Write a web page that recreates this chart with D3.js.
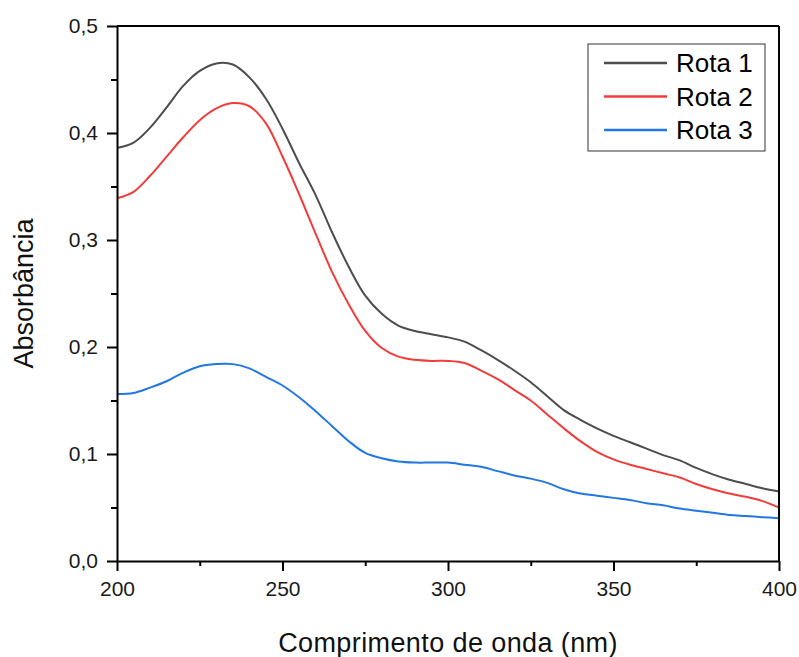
<!DOCTYPE html>
<html>
<head>
<meta charset="utf-8">
<script src="https://cdn.jsdelivr.net/npm/d3@7"></script>
<style>
  body { margin: 0; background: #fff; }
  svg { display: block; font-family: "Liberation Sans", Arial, sans-serif; }
</style>
</head>
<body>
<svg class="spectra" width="799" height="657"></svg>
<script>
/* wavelength grid (nm) and absorbance, one list per route */
var wavelength = [200, 205, 210, 215, 220, 225, 230, 235, 240, 245, 250, 255, 260, 265, 270, 275, 280, 285, 290, 295,
  300, 305, 310, 315, 320, 325, 330, 335, 340, 345, 350, 355, 360, 365, 370, 375, 380, 385, 390, 395, 400];

var rota1 = [0.386, 0.391, 0.405, 0.424, 0.444, 0.458, 0.465, 0.464, 0.452, 0.432, 0.404, 0.372, 0.342, 0.307, 0.275, 0.248, 0.231, 0.220, 0.215, 0.212,
  0.209, 0.205, 0.197, 0.188, 0.178, 0.167, 0.154, 0.141, 0.132, 0.124, 0.117, 0.111, 0.105, 0.099, 0.094, 0.087, 0.081, 0.076, 0.072, 0.068, 0.065];

var rota2 = [0.339, 0.345, 0.360, 0.378, 0.396, 0.412, 0.423, 0.428, 0.425, 0.409, 0.378, 0.343, 0.306, 0.270, 0.240, 0.215, 0.199, 0.191, 0.188, 0.187,
  0.187, 0.185, 0.178, 0.170, 0.160, 0.150, 0.137, 0.124, 0.112, 0.102, 0.095, 0.090, 0.086, 0.082, 0.078, 0.072, 0.067, 0.063, 0.060, 0.056, 0.050];

var rota3 = [0.156, 0.157, 0.162, 0.168, 0.176, 0.182, 0.184, 0.184, 0.180, 0.172, 0.164, 0.153, 0.140, 0.126, 0.112, 0.101, 0.096, 0.093, 0.092, 0.092,
  0.092, 0.090, 0.088, 0.084, 0.080, 0.077, 0.073, 0.067, 0.063, 0.061, 0.059, 0.057, 0.054, 0.052, 0.049, 0.047, 0.045, 0.043, 0.042, 0.041, 0.040];

var seriesNames = ["Rota 1", "Rota 2", "Rota 3"];
var seriesColors = ["#4d4d4d", "#f23c3c", "#2277e3"];
var xTicks = [200, 250, 300, 350, 400];
var yTicks = [0, 0.1, 0.2, 0.3, 0.4, 0.5];

/* svg, margins and plot size */
var svg = d3.select(".spectra"),
    margin = {top: 26, right: 20, bottom: 96, left: 117},
    width = +svg.attr("width") - margin.left - margin.right,
    height = +svg.attr("height") - margin.top - margin.bottom;

var x = d3.scaleLinear().domain([200, 400]).range([0, width]),
    y = d3.scaleLinear().domain([0, 0.5]).range([height, 0]);

var g = svg.append("g")
    .attr("transform", "translate(" + margin.left + "," + margin.top + ")");

var comma = function(d) { return d3.format(".1f")(d).replace(".", ","); };

/* curves first so the frame sits on top */
var line = d3.line()
    .x(function(d) { return x(d[0]); })
    .y(function(d) { return y(d[1]); })
    .curve(d3.curveCatmullRom.alpha(0.5));

[rota1, rota2, rota3].forEach(function(vals, i) {
  g.append("path")
      .datum(wavelength.map(function(w, j) { return [w, vals[j]]; }))
      .attr("fill", "none")
      .attr("stroke", seriesColors[i])
      .attr("stroke-width", 2)
      .attr("d", line);
});

/* minor ticks */
g.append("g")
    .attr("transform", "translate(0," + height + ")")
    .call(d3.axisBottom(x).tickValues([225, 275, 325, 375]).tickSize(5).tickFormat(""))
    .call(function(a) { a.select(".domain").remove(); a.selectAll("line").attr("stroke-width", 2); });

g.append("g")
    .call(d3.axisLeft(y).tickValues([0.05, 0.15, 0.25, 0.35, 0.45]).tickSize(6).tickFormat(""))
    .call(function(a) { a.select(".domain").remove(); a.selectAll("line").attr("stroke-width", 2); });

/* major axes */
var xAxis = g.append("g")
    .attr("transform", "translate(0," + height + ")")
    .call(d3.axisBottom(x).tickValues(xTicks).tickSize(10).tickPadding(10).tickSizeOuter(0));

var yAxis = g.append("g")
    .call(d3.axisLeft(y).tickValues(yTicks).tickSize(10).tickPadding(9).tickFormat(comma).tickSizeOuter(0));

[xAxis, yAxis].forEach(function(a) {
  a.select(".domain").attr("stroke-width", 2);
  a.selectAll(".tick line").attr("stroke-width", 2);
  a.selectAll("text")
      .attr("font-family", "Liberation Sans, Arial, sans-serif")
      .attr("font-size", 21)
      .attr("fill", "#1a1a1a");
});

/* top and right frame lines */
g.append("line").attr("x1", 0).attr("x2", width).attr("y1", 0).attr("y2", 0)
    .attr("stroke", "#000").attr("stroke-width", 2);
g.append("line").attr("x1", width).attr("x2", width).attr("y1", 0).attr("y2", height)
    .attr("stroke", "#000").attr("stroke-width", 2);

/* axis titles */
svg.append("text")
    .attr("x", margin.left + width / 2)
    .attr("y", 652)
    .attr("text-anchor", "middle")
    .attr("font-size", 27)
    .attr("letter-spacing", 0.4)
    .attr("fill", "#111")
    .text("Comprimento de onda (nm)");

svg.append("text")
    .attr("transform", "translate(33," + (margin.top + height / 2) + ") rotate(-90)")
    .attr("text-anchor", "middle")
    .attr("font-size", 27)
    .attr("fill", "#111")
    .text("Absorbância");

/* legend */
var legend = svg.append("g").attr("transform", "translate(588,44)");

legend.append("rect")
    .attr("width", 177)
    .attr("height", 107)
    .attr("fill", "#fff")
    .attr("stroke", "#333")
    .attr("stroke-width", 1);

var entry = legend.selectAll(".entry")
    .data(seriesNames)
    .enter().append("g")
      .attr("class", "entry")
      .attr("transform", function(d, i) { return "translate(0," + (19 + i * 33.5) + ")"; });

entry.append("line")
    .attr("x1", 16).attr("x2", 79)
    .attr("stroke", function(d, i) { return seriesColors[i]; })
    .attr("stroke-width", 2.5);

entry.append("text")
    .attr("x", 88)
    .attr("y", 9)
    .attr("font-size", 26)
    .attr("fill", "#000")
    .text(function(d) { return d; });
</script>
</body>
</html>
